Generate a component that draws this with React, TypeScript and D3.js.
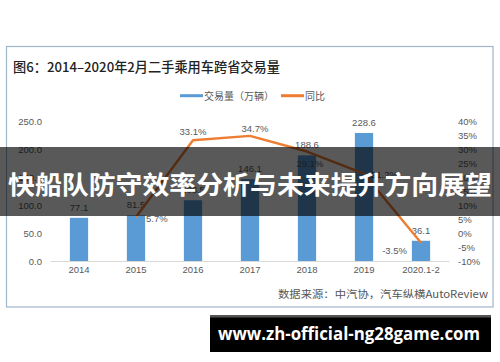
import React from "react";
import * as d3 from "d3";

// 二手乘用车跨省交易量 (万辆) and 同比 (%)
const categories = ["2014", "2015", "2016", "2017", "2018", "2019", "2020.1-2"];
const volume = [77.1, 81.5, 108.5, 146.1, 188.6, 228.6, 36.1];
const growth: (number | null)[] = [null, 5.7, 33.1, 34.7, 29.1, 21.2, -3.5];
const leftTicks = [0, 50, 100, 150, 200, 250];
const rightTicks = [-10, -5, 0, 5, 10, 15, 20, 25, 30, 35, 40];

const W = 500;
const H = 362;
const NUM_FONT = "'Liberation Sans', Arial, sans-serif";
const CJK_FONT = "'Noto Sans CJK SC', 'Noto Sans', sans-serif";
const BLUE = "#5B9BD5";
const ORANGE = "#ED7D31";
const LABEL = "#595959";

// where each growth label sits relative to its point
const growthLabelPos = [
  null,
  { dx: 10, dy: 5, anchor: "start" },
  { dx: 0, dy: -5, anchor: "middle" },
  { dx: 5, dy: -4, anchor: "middle" },
  { dx: 3, dy: 15, anchor: "middle" },
  { dx: 7, dy: 4, anchor: "start" },
  { dx: -14, dy: 11, anchor: "end" },
];

export default function App() {
  const x = d3
    .scaleBand<string>()
    .domain(categories)
    .range([50.5, 449.5])
    .paddingInner(0.68)
    .paddingOuter(0.34);
  const yL = d3.scaleLinear().domain([0, 250]).range([261, 121]);
  const yR = d3.scaleLinear().domain([-10, 40]).range([261, 121]);
  const cx = (c: string) => (x(c) ?? 0) + x.bandwidth() / 2;

  const pts = categories
    .map((c, i) => ({ c, v: growth[i], i }))
    .filter((d) => d.v !== null) as { c: string; v: number; i: number }[];

  const line = d3
    .line<{ c: string; v: number }>()
    .x((d) => cx(d.c))
    .y((d) => yR(d.v));

  const fmt1 = d3.format(".1f");

  return (
    <svg
      width={W}
      height={H}
      style={{ position: "absolute", left: 0, top: 0, display: "block" }}
    >
      <rect x={0} y={0} width={W} height={H} fill="#fff" />
      <rect x={6.5} y={46.5} width={486.5} height={260.5} fill="#fff" stroke="#9fb5ca" strokeWidth={1.2} />

      <text x={13} y={72} fontFamily={CJK_FONT} fontSize={13.2} fontWeight={500} fill="#222">
        图6：2014–2020年2月二手乘用车跨省交易量
      </text>

      {/* legend */}
      <line x1={180} x2={203} y1={95.7} y2={95.7} stroke={BLUE} strokeWidth={3} />
      <text x={204} y={99.5} fontFamily={CJK_FONT} fontSize={10} fill={LABEL}>
        交易量（万辆）
      </text>
      <line x1={281} x2={304} y1={95.7} y2={95.7} stroke={ORANGE} strokeWidth={3} />
      <text x={305} y={99.5} fontFamily={CJK_FONT} fontSize={10} fill={LABEL}>
        同比
      </text>

      {/* left axis */}
      {leftTicks.map((t) => (
        <text key={t} x={42} y={yL(t) + 3.5} textAnchor="end" fontFamily={NUM_FONT} fontSize={9.5} fill={LABEL}>
          {fmt1(t)}
        </text>
      ))}
      {/* right axis */}
      {rightTicks.map((t) => (
        <text key={t} x={458} y={yR(t) + 3.5} textAnchor="start" fontFamily={NUM_FONT} fontSize={9.5} fill={LABEL}>
          {t + "%"}
        </text>
      ))}

      <line x1={x.range()[0]} x2={x.range()[1]} y1={yL(0) + 0.5} y2={yL(0) + 0.5} stroke="#d9d9d9" strokeWidth={1} />

      {/* bars */}
      {categories.map((c, i) => (
        <g key={c}>
          <rect x={x(c)} y={yL(volume[i])} width={x.bandwidth()} height={yL(0) - yL(volume[i])} fill={BLUE} />
          <text x={cx(c)} y={yL(volume[i]) - 7} textAnchor="middle" fontFamily={NUM_FONT} fontSize={9.5} fill={LABEL}>
            {fmt1(volume[i])}
          </text>
          <text x={cx(c)} y={273} textAnchor="middle" fontFamily={NUM_FONT} fontSize={9.5} fill={LABEL}>
            {c}
          </text>
        </g>
      ))}

      {/* growth line */}
      <path d={line(pts) ?? ""} fill="none" stroke={ORANGE} strokeWidth={2.4} strokeLinejoin="round" />
      {pts.map((d) => {
        const p = growthLabelPos[d.i]!;
        return (
          <text
            key={d.c}
            x={cx(d.c) + p.dx}
            y={yR(d.v) + p.dy}
            textAnchor={p.anchor as any}
            fontFamily={NUM_FONT}
            fontSize={9.5}
            fill={LABEL}
          >
            {d.v.toFixed(1) + "%"}
          </text>
        );
      })}

      <text
        x={278}
        y={298}
        textLength={210}
        lengthAdjust="spacingAndGlyphs"
        fontFamily={CJK_FONT}
        fontSize={10}
        fill="#555"
      >
        数据来源：中汽协，汽车纵横AutoReview
      </text>

      {/* banner overlay */}
      <rect x={0} y={147} width={W} height={69} fill="rgba(0,0,0,0.65)" />
      <text
        x={8}
        y={194}
        textLength={484}
        lengthAdjust="spacingAndGlyphs"
        fontFamily={CJK_FONT}
        fontSize={25.5}
        fontWeight={700}
        fill="#fff"
      >
        快船队防守效率分析与未来提升方向展望
      </text>

      {/* url box */}
      <rect x={210} y={315} width={281} height={37} fill="#000" />
      <rect x={210} y={315} width={281} height={2.5} fill="#555" />
      <text
        x={218}
        y={340}
        textLength={262}
        lengthAdjust="spacingAndGlyphs"
        fontFamily="'Open Sans', 'DejaVu Sans', sans-serif"
        fontSize={17}
        fontWeight={700}
        fill="#fff"
      >
        www.zh-official-ng28game.com
      </text>
    </svg>
  );
}
